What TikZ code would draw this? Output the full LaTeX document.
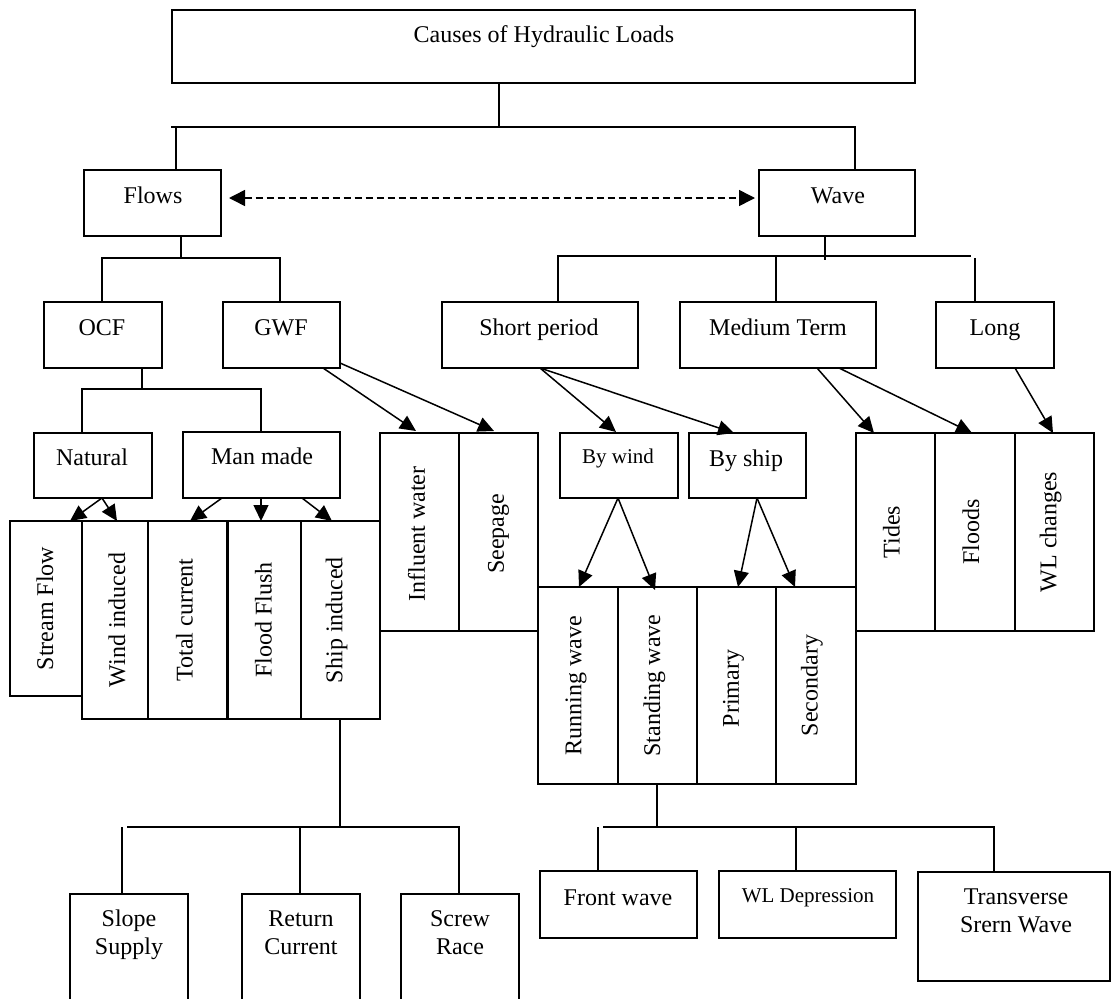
\documentclass[tikz,border=0pt]{standalone}
\usepackage{fontspec}
\setmainfont{Liberation Serif}
\usetikzlibrary{arrows.meta,calc}
\tikzset{
 box/.style={draw, line width=1.8pt, inner sep=0pt, outer sep=0pt, rectangle},
 lbl/.style={inner sep=0pt, anchor=base, font=\fontsize{24}{28}\selectfont},
 lbls/.style={inner sep=0pt, anchor=base, font=\fontsize{21}{25}\selectfont},
 vlbl/.style={inner sep=0pt, font=\fontsize{24}{28}\selectfont, rotate=90},
 conn/.style={line width=1.5pt},
 arr/.style={line width=1.5pt, -{Triangle[length=16pt,width=15pt]}},
 darr/.style={line width=1.5pt, dash pattern=on 7pt off 4pt, {Triangle[length=16pt,width=16pt]}-{Triangle[length=16pt,width=16pt]}},
}
\newcommand\bx[5]{\node[box, minimum width={(#4-#2)*1pt}, minimum height={(#5-#3)*1pt}] (#1) at ({(#2+#4)/2},{(#3+#5)/2}) {};}
\begin{document}
\begin{tikzpicture}[x=1pt,y=-1pt]
\useasboundingbox (0,0) rectangle (1113,998);
\clip (0,0) rectangle (1113,998);
% boxes
\bx{title}{172}{10}{915}{83}
\bx{flows}{84}{170}{221}{236}
\bx{wave}{759}{170}{915}{236}
\bx{ocf}{44}{302}{162}{368}
\bx{gwf}{223}{302}{340}{368}
\bx{short}{442}{302}{638}{368}
\bx{medium}{680}{302}{876}{368}
\bx{long}{936}{302}{1054}{368}
\bx{natural}{34}{433}{152}{498}
\bx{manmade}{183}{432}{340}{498}
\bx{influent}{380}{433}{459}{631}
\bx{seepage}{459}{433}{538}{631}
\bx{bywind}{560}{433}{678}{498}
\bx{byship}{689}{433}{806}{498}
\bx{tides}{856}{433}{935}{631}
\bx{floods}{935}{433}{1015}{631}
\bx{wlchanges}{1015}{433}{1094}{631}
\bx{stream}{10}{521}{82}{696}
\bx{windind}{82}{521}{148}{719}
\bx{totalcur}{148}{521}{227}{719}
\bx{floodfl}{228}{521}{301}{719}
\bx{shipind}{301}{521}{380}{719}
\bx{running}{538}{587}{618}{784}
\bx{standing}{618}{587}{697}{784}
\bx{primary}{697}{587}{776}{784}
\bx{secondary}{776}{587}{856}{784}
\bx{slope}{70}{894}{188}{1010}
\bx{returnc}{242}{894}{360}{1010}
\bx{screw}{401}{894}{519}{1010}
\bx{front}{540}{871}{697}{938}
\bx{wldep}{719}{871}{896}{938}
\bx{transverse}{918}{872}{1110}{981}
% horizontal labels
\node[lbl] (title-t) at (544,43) {Causes of Hydraulic Loads};
\node[lbl] (flows-t) at (153,203) {Flows};
\node[lbl] (wave-t) at (838,203) {Wave};
\node[lbl] (ocf-t) at (102,335) {OCF};
\node[lbl] (gwf-t) at (281,335) {GWF};
\node[lbl] (short-t) at (539,335) {Short period};
\node[lbl] (medium-t) at (778,335) {Medium Term};
\node[lbl] (long-t) at (995,335) {Long};
\node[lbl] (natural-t) at (92,465) {Natural};
\node[lbl] (manmade-t) at (262,464) {Man made};
\node[lbls] (bywind-t) at (618,463) {By wind};
\node[lbl] (byship-t) at (746,466) {By ship};
\node[lbl] (slope-t1) at (129,926) {Slope};
\node[lbl] (slope-t2) at (129,954) {Supply};
\node[lbl] (returnc-t1) at (301,926) {Return};
\node[lbl] (returnc-t2) at (301,954) {Current};
\node[lbl] (screw-t1) at (460,926) {Screw};
\node[lbl] (screw-t2) at (460,954) {Race};
\node[lbl] (front-t) at (618,905) {Front wave};
\node[lbls] (wldep-t) at (808,902) {WL Depression};
\node[lbl] (transverse-t1) at (1016,904) {Transverse};
\node[lbl] (transverse-t2) at (1016,932) {Srern Wave};
% vertical labels
\node[vlbl] (stream-t) at ($(stream)+(-1,0)$) {Stream Flow};
\node[vlbl] (windind-t) at ($(windind)+(2,0)$) {Wind induced};
\node[vlbl] (totalcur-t) at ($(totalcur)+(-3,0)$) {Total current};
\node[vlbl] (floodfl-t) at ($(floodfl)+(-1,0)$) {Flood Flush};
\node[vlbl] (shipind-t) at ($(shipind)+(-4,0)$) {Ship induced};
\node[vlbl] (influent-t) at ($(influent)+(-3,2)$) {Influent water};
\node[vlbl] (seepage-t) at ($(seepage)+(0,2)$) {Seepage};
\node[vlbl] (tides-t) at ($(tides)+(-4,0)$) {Tides};
\node[vlbl] (floods-t) at ($(floods)+(-4,0)$) {Floods};
\node[vlbl] (wlchanges-t) at ($(wlchanges)+(-4,0)$) {WL changes};
\node[vlbl] (running-t) at ($(running)+(-2,0)$) {Running wave};
\node[vlbl] (standing-t) at ($(standing)+(-3,0)$) {Standing wave};
\node[vlbl] (primary-t) at ($(primary)+(-3,3)$) {Primary};
\node[vlbl] (secondary-t) at ($(secondary)+(-4,0)$) {Secondary};
% tree connectors
\coordinate (j0) at (499,127);
\coordinate (h0l) at (171,127);
\coordinate (h0r) at (855,127);
\coordinate (d0l) at (176,127);
\draw[conn] (title.south -| j0) -- (j0);
\draw[conn] (h0l) -- (h0r) -- (wave.north -| h0r);
\draw[conn] (d0l) -- (flows.north -| d0l);
\coordinate (j1) at (181,258);
\coordinate (h1l) at (102,258);
\coordinate (h1r) at (280,258);
\draw[conn] (flows.south -| j1) -- (j1);
\draw[conn] (ocf.north -| h1l) -- (h1l) -- (h1r) -- (gwf.north -| h1r);
\coordinate (j2) at (825,260);
\coordinate (h2l) at (558,256);
\coordinate (h2r) at (971,256);
\coordinate (h2m) at (776,256);
\coordinate (h2x) at (975,258);
\draw[conn] (wave.south -| j2) -- (j2);
\draw[conn] (short.north -| h2l) -- (h2l) -- (h2r);
\draw[conn] (h2m) -- (medium.north -| h2m);
\draw[conn] (h2x) -- (long.north -| h2x);
\coordinate (j3) at (142,389);
\coordinate (h3l) at (82,389);
\coordinate (h3r) at (261,389);
\draw[conn] (ocf.south -| j3) -- (j3);
\draw[conn] (natural.north -| h3l) -- (h3l) -- (h3r) -- (manmade.north -| h3r);
\coordinate (j4) at (340,827);
\coordinate (h4l) at (127,827);
\coordinate (h4r) at (459,827);
\coordinate (h4a) at (122,827);
\coordinate (h4m) at (300,827);
\draw[conn] (shipind.south -| j4) -- (j4);
\draw[conn] (h4l) -- (h4r) -- (screw.north -| h4r);
\draw[conn] (h4a) -- (slope.north -| h4a);
\draw[conn] (h4m) -- (returnc.north -| h4m);
\coordinate (j5) at (657,827);
\coordinate (h5l) at (603,827);
\coordinate (h5r) at (994,827);
\coordinate (h5a) at (598,827);
\coordinate (h5m) at (796,827);
\draw[conn] (standing.south -| j5) -- (j5);
\draw[conn] (h5l) -- (h5r) -- (transverse.north -| h5r);
\draw[conn] (h5a) -- (front.north -| h5a);
\draw[conn] (h5m) -- (wldep.north -| h5m);
% dashed arrow
\draw[darr] ($(flows.east)+(8,-5)$) -- ($(wave.west)+(-4,-5)$);
% arrows
\draw[arr] ($(gwf.south west)+(100,0)$) -- ($(influent.north west)+(36,-2)$);
\draw[arr] ($(gwf.south east)+(0,-5)$) -- ($(seepage.north west)+(35,-2)$);
\draw[arr] ($(short.south west)+(98,0)$) -- ($(bywind.north west)+(56,-1)$);
\draw[arr] ($(short.south west)+(98,0)$) -- ($(byship.north west)+(45,0)$);
\draw[arr] ($(medium.south west)+(137,0)$) -- ($(tides.north west)+(18,0)$);
\draw[arr] ($(medium.south west)+(159,0)$) -- ($(floods.north west)+(37,0)$);
\draw[arr] ($(long.south west)+(79,0)$) -- ($(wlchanges.north west)+(38,0)$);
\draw[arr] ($(natural.south west)+(68,0)$) -- ($(stream.north west)+(60,0)$);
\draw[arr] ($(natural.south west)+(68,0)$) -- ($(windind.north west)+(35,0)$);
\draw[arr] ($(manmade.south west)+(39,0)$) -- ($(totalcur.north west)+(42,0)$);
\draw[arr] ($(manmade.south west)+(78,0)$) -- ($(floodfl.north west)+(33,0)$);
\draw[arr] ($(manmade.south west)+(119,0)$) -- ($(shipind.north west)+(31,0)$);
\draw[arr] ($(bywind.south west)+(58,0)$) -- ($(running.north west)+(41,0)$);
\draw[arr] ($(bywind.south west)+(58,0)$) -- ($(standing.north west)+(37,3)$);
\draw[arr] ($(byship.south west)+(68,0)$) -- ($(primary.north west)+(41,0)$);
\draw[arr] ($(byship.south west)+(68,0)$) -- ($(secondary.north west)+(19,0)$);
\end{tikzpicture}
\end{document}
